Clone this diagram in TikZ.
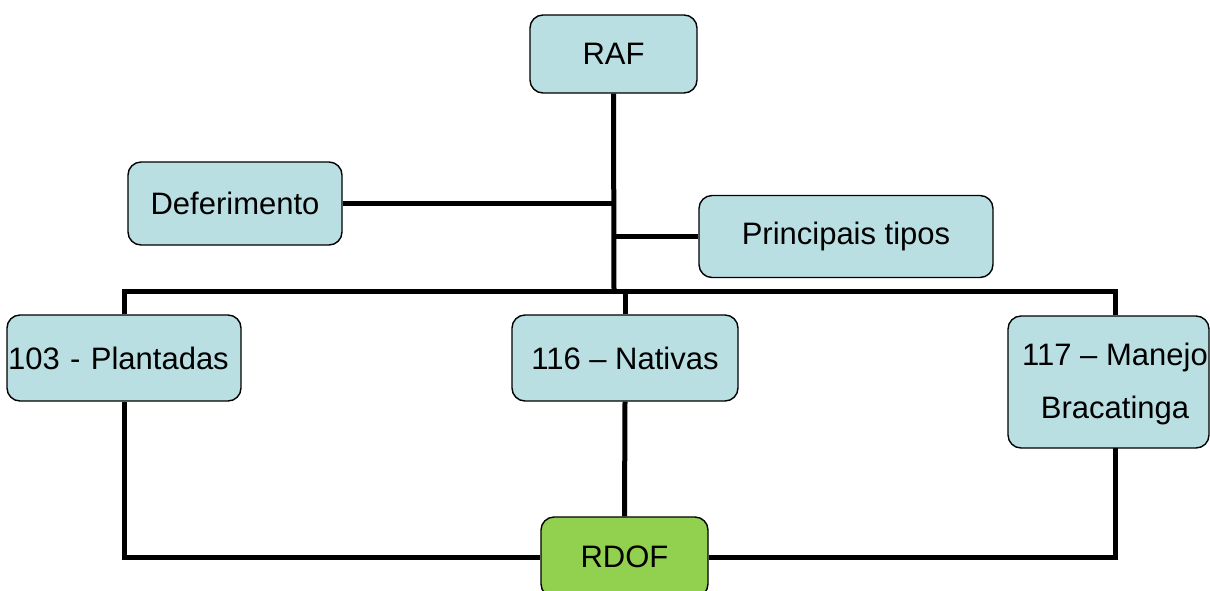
\documentclass[tikz,border=0pt]{standalone}
\usepackage{fontspec}
\setmainfont{Liberation Sans}
\usepackage{xcolor}
\definecolor{boxblue}{RGB}{186,223,226}
\definecolor{boxgreen}{RGB}{146,208,80}
\tikzset{etapa/.style={draw, line width=1.4pt, rounded corners=13pt, fill=boxblue, align=center, inner sep=0pt, font=\fontsize{31}{53}\selectfont},
         ligacao/.style={line width=5pt}}

\begin{document}
\begin{tikzpicture}[x=1pt, y=-1pt]
    \clip (0,0) rectangle (1210,590);
    \node[etapa, minimum width=167pt, minimum height=78pt] (raf) at (613.5,54) {RAF};
    \node[etapa, minimum width=214pt, minimum height=83pt] (defer) at (235,203.5) {Deferimento};
    \node[etapa, minimum width=294pt, minimum height=82pt] (tipos) at (846,236.5) {Principais tipos};
    \node[etapa, minimum width=234pt, minimum height=86pt, text width=234pt, execute at begin node=\hspace*{-11pt}] (plant) at (124,358) {103 - Plantadas};
    \node[etapa, minimum width=226pt, minimum height=86pt] (nat) at (625,358) {116 -- Nativas};
    \node[etapa, minimum width=201pt, minimum height=132pt,
          label={[font=\fontsize{31}{53}\selectfont, align=center, xshift=6.5pt, yshift=-2pt]center:117 -- Manejo\\Bracatinga}] (manejo) at (1108.5,382) {};
    \node[etapa, fill=boxgreen, minimum width=167pt, minimum height=80pt] (rdof) at (624.5,557) {RDOF};
    \coordinate (hub) at (614,291);
    \coordinate (mjn) at (1115,291);
    \coordinate (mjs) at (1115,448);
    \draw[ligacao] (raf.south) -- (hub);
    \draw[ligacao] (defer.east) -- (defer.east -| hub);
    \draw[ligacao] (tipos.west) -- (tipos.west -| hub);
    \draw[ligacao] (plant.north) |- (mjn) -- (mjn |- manejo.north);
    \draw[ligacao] (nat.north |- hub) -- (nat.north);
    \draw[ligacao] (plant.south) |- (rdof.west);
    \draw[ligacao] (nat.south) -- (rdof.north);
    \draw[ligacao] (mjs) |- (rdof.east);
\end{tikzpicture}
\end{document}
